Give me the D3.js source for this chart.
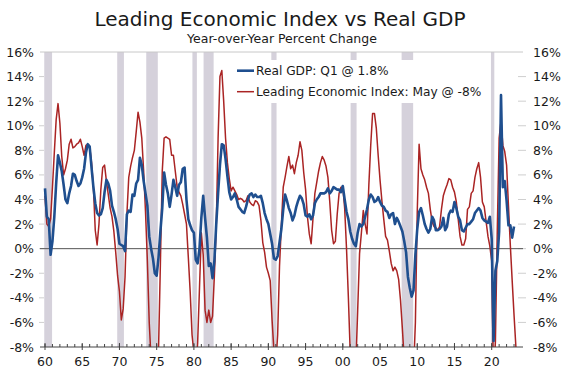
<!DOCTYPE html>
<html>
<head>
<meta charset="utf-8">
<script src="https://cdn.jsdelivr.net/npm/d3@7"></script>
<style>
  body { margin: 0; background: #fff; }
  svg { font-family: "DejaVu Sans", Verdana, sans-serif; }
</style>
</head>
<body>
<svg id="chart" width="566" height="372"></svg>
<script>
// quarterly series, first value = 1960 Q1
const startYear = 1960;

// Real GDP, year-over-year % change
const gdp = [
  4.9, 2.6, 2.4, -0.5,   // 1960
  0.6, 2.6, 5.3, 7.6,
  7.0, 6.3, 5.2, 4.0,
  3.7, 4.5, 5.1, 6.1,
  6.0, 5.5, 5.1, 5.3,
  5.8, 6.5, 7.8, 8.5,    // 1965
  8.3, 6.6, 5.0, 3.7,
  2.9, 2.7, 2.8, 3.3,
  4.6, 5.6, 5.3, 4.7,
  3.5, 3.0, 2.4, 1.6,
  0.4, 0.3, 0.2, -0.2,   // 1970
  2.8, 3.1, 3.0, 4.4,
  4.3, 5.3, 5.6, 7.4,
  6.8, 5.5, 4.5, 3.5,
  1.0, 0.0, -0.8, -2.0,
  -2.2, -0.7, 1.4, 3.3,  // 1975
  6.2, 5.2, 4.5, 3.4,
  4.4, 5.6, 5.0, 4.3,
  5.2, 5.4, 6.5, 6.6,
  4.0, 2.4, 1.9, 1.5,
  1.3, -0.9, -1.2, 0.0,  // 1980
  2.5, 4.3, 2.5, 0.9,
  -1.4, -1.2, -2.4, -1.0,
  2.0, 4.5, 6.8, 8.5,
  8.4, 7.3, 5.9, 4.6,
  4.0, 4.2, 4.5, 4.0,    // 1985
  3.4, 3.2, 3.0, 2.9,
  3.4, 4.0, 4.4, 4.5,
  4.2, 4.4, 4.2, 4.2,
  4.3, 3.7, 2.9, 2.4,
  2.0, 1.2, 0.4, -0.8,   // 1990
  -0.9, -0.6, 0.5, 1.6,
  3.2, 4.4, 3.9, 3.3,
  2.9, 2.3, 2.7, 3.4,
  3.9, 4.3, 4.1, 3.6,
  2.7, 2.6, 2.8, 2.4,    // 1995
  2.7, 3.7, 4.0, 4.2,
  4.5, 4.5, 4.5, 4.6,
  4.9, 4.5, 4.7, 5.0,
  4.9, 4.8, 4.8, 4.6,
  5.1, 4.0, 3.0, 2.4,    // 2000
  1.4, 0.8, 0.4, 0.2,
  1.3, 2.0, 1.8, 2.0,
  2.6, 3.2, 4.0, 4.4,
  4.2, 3.8, 3.9, 4.2,
  3.8, 3.5, 3.4, 3.1,    // 2005
  3.0, 2.5, 2.8, 2.9,
  2.0, 2.5, 2.2, 1.8,
  1.4, 0.6, -0.3, -2.3,
  -3.2, -3.9, -3.4, -0.5,
  1.6, 3.0, 3.3, 2.7,    // 2010
  2.0, 1.6, 1.3, 1.6,
  2.6, 2.3, 1.5, 1.5,
  1.6, 1.8, 2.5, 1.5,
  1.8, 2.8, 3.1, 3.0,
  3.8, 3.3, 2.6, 2.3,    // 2015
  1.5, 1.4, 1.7, 2.0,
  2.0, 2.2, 2.4, 2.9,
  3.1, 3.3, 3.1, 2.5,
  2.3, 2.2, 2.1, 2.6,
  0.8, -7.5, -1.8, -1.0, // 2020
  1.4, 12.5, 5.0, 5.5,
  3.9, 1.9, 1.9, 0.9,
  1.8
];

// Leading Economic Index, year-over-year % change
const lei = [
  4.3, 2.0, 1.8, 2.4,    // 1960
  5.0, 7.8, 10.5, 11.8,
  10.2, 7.5, 6.0, 6.5,
  7.2, 8.5, 8.9, 8.2,
  8.3, 8.5, 8.6, 8.9,
  8.3, 7.6, 8.4, 8.5,    // 1965
  8.3, 7.0, 5.0, 1.5,
  0.3, 2.0, 4.8, 6.6,
  6.8, 5.5, 4.4, 3.3,
  2.6, 1.4, -0.3, -2.2,
  -3.5, -5.8, -4.9, -2.3, // 1970
  2.8, 5.8, 6.7, 7.4,
  8.0, 9.5, 11.1, 10.3,
  9.0, 6.3, 3.0, -1.0,
  -6.0, -9.0, -11.0, -12.0,
  -11.0, -8.2, -1.2, 6.3, // 1975
  9.0, 9.1, 9.0, 8.9,
  7.6, 7.6, 6.3, 5.0,
  4.6, 4.3, 3.6, 2.8,
  2.0, -0.7, -3.5, -7.0,
  -8.5, -10.0, -7.7, -3.2, // 1980
  1.3, -0.5, -5.0, -6.0,
  -5.0, -6.0, -5.5, -2.2,
  1.8, 9.0, 14.0, 14.5,
  12.0, 9.0, 7.0, 5.7,
  4.7, 5.0, 4.7, 4.4,    // 1985
  4.0, 4.1, 4.0, 3.8,
  3.9, 4.3, 3.8, 3.6,
  3.5, 3.9, 3.8, 3.5,
  2.3, 0.5, -0.3, -1.5,
  -2.0, -2.6, -5.8, -8.3, // 1990
  -9.5, -7.0, -1.4, 1.9,
  5.0, 5.8, 6.7, 7.5,
  6.5, 6.8, 6.1, 7.0,
  7.6, 8.7, 8.0, 6.2,
  4.8, 2.6, 1.2, 0.4,    // 1995
  2.5, 4.5, 5.4, 6.3,
  7.0, 7.5, 7.2, 6.7,
  5.8, 3.8, 1.5, 0.4,
  0.6, 2.8, 4.5, 5.0,
  5.0, 3.3, 0.0, -4.0,   // 2000
  -8.5, -10.5, -10.5, -9.5,
  -5.0, -0.4, 1.3, 3.1,
  2.0, 1.2, 5.2, 8.4,
  11.0, 11.0, 9.8, 7.6,
  5.6, 3.9, 2.4, 1.0,    // 2005
  0.7, -0.2, -1.2, -1.8,
  -1.5, -1.8, -2.5, -4.2,
  -6.5, -9.0, -11.0, -13.0,
  -14.0, -12.0, -10.0, -6.0,
  3.0, 8.5, 6.5, 6.0,    // 2010
  5.6, 5.0, 4.5, 3.2,
  2.2, 1.8, 1.7, 1.5,
  1.8, 3.2, 4.3, 4.8,
  5.2, 5.7, 5.6, 5.0,
  4.6, 3.8, 2.4, 1.0,    // 2015
  0.3, 0.3, 0.8, 3.2,
  3.4, 4.5, 4.7, 5.8,
  6.5, 7.0, 5.8, 3.8,
  3.4, 2.2, 1.0, 0.2,
  -1.0, -11.0, -7.5, 1.5, // 2020
  9.0, 10.4, 8.4, 7.9,
  6.8, 3.5, 0.3, -2.6,
  -5.4, -8.0
];

// recession shading, [start, end] in years
const recessions = [
  [1959.9, 1960.95], [1969.7, 1970.6], [1973.6, 1975.15],
  [1979.8, 1980.4], [1981.3, 1982.65], [1990.4, 1991.1],
  [2001.05, 2001.85], [2007.9, 2009.45], [2019.9, 2020.35]
];

const yTicks = [-8, -6, -4, -2, 0, 2, 4, 6, 8, 10, 12, 14, 16];
const xMajor = [1960, 1965, 1970, 1975, 1980, 1985, 1990, 1995, 2000, 2005, 2010, 2015, 2020];
const xLabels = ["60", "65", "70", "75", "80", "85", "90", "95", "00", "05", "10", "15", "20"];
const xMinor = d3.range(1960, 2024);

const legendItems = [
  { label: "Real GDP: Q1 @ 1.8%", color: "#1f4f8f", width: 2.6 },
  { label: "Leading Economic Index: May @ -8%", color: "#aa2424", width: 1.5 }
];

const plotL = 40, plotR = 523, plotT = 52, plotB = 347;

const x = d3.scaleLinear().domain([1960, 2020]).range([45, 491.7]);
const y = d3.scaleLinear().domain([-8, 16]).range([plotB, plotT]);

const svg = d3.select("#chart");

svg.append("defs").append("clipPath").attr("id", "plotclip")
  .append("rect")
  .attr("x", plotL).attr("y", plotT)
  .attr("width", plotR - plotL).attr("height", plotB - plotT);

// title
svg.append("text")
  .attr("x", 280).attr("y", 25.5)
  .attr("text-anchor", "middle")
  .style("font-size", "20px")
  .style("fill", "#1a1a1a")
  .text("Leading Economic Index vs Real GDP");

svg.append("text")
  .attr("x", 282).attr("y", 42.5)
  .attr("text-anchor", "middle")
  .style("font-size", "12.5px")
  .style("fill", "#1a1a1a")
  .text("Year-over-Year Percent Change");

// recession bars
svg.append("g")
  .selectAll("rect")
  .data(recessions)
  .enter()
  .append("rect")
  .attr("x", (d) => Math.max(plotL, x(d[0])))
  .attr("y", plotT)
  .attr("width", (d) => x(d[1]) - Math.max(plotL, x(d[0])))
  .attr("height", plotB - plotT)
  .style("fill", "#d5d1db");

// top border line
svg.append("line")
  .attr("x1", plotL).attr("x2", plotR)
  .attr("y1", y(16)).attr("y2", y(16))
  .style("stroke", "#c8c8c8").style("stroke-width", 1);

// y ticks, both sides
const inner = yTicks.filter((d) => d !== 16 && d !== -8);
const yt = svg.append("g");
yt.selectAll(".lt")
  .data(inner)
  .enter()
  .append("line")
  .attr("x1", plotL - 1).attr("x2", plotL + 4)
  .attr("y1", (d) => y(d)).attr("y2", (d) => y(d))
  .style("stroke", "#cfcfcf");
yt.selectAll(".rt")
  .data(inner)
  .enter()
  .append("line")
  .attr("x1", plotR - 5).attr("x2", plotR + 3)
  .attr("y1", (d) => y(d)).attr("y2", (d) => y(d))
  .style("stroke", "#cfcfcf");

yt.selectAll(".ll")
  .data(yTicks)
  .enter()
  .append("text")
  .attr("x", 34)
  .attr("y", (d) => y(d))
  .attr("dy", "0.36em")
  .attr("text-anchor", "end")
  .style("font-size", "12.5px")
  .style("fill", "#1a1a1a")
  .text((d) => d + "%");
yt.selectAll(".rl")
  .data(yTicks)
  .enter()
  .append("text")
  .attr("x", 533)
  .attr("y", (d) => y(d))
  .attr("dy", "0.36em")
  .attr("text-anchor", "start")
  .style("font-size", "12.5px")
  .style("fill", "#1a1a1a")
  .text((d) => d + "%");

// zero line
svg.append("line")
  .attr("x1", plotL).attr("x2", plotR)
  .attr("y1", y(0)).attr("y2", y(0))
  .style("stroke", "#555").style("stroke-width", 1);

// legend box
const legend = svg.append("g");
legend.append("rect")
  .attr("x", 231).attr("y", 60)
  .attr("width", 255).attr("height", 43)
  .style("fill", "#fff");
legend.selectAll("line")
  .data(legendItems)
  .enter()
  .append("line")
  .attr("x1", 237).attr("x2", 254)
  .attr("y1", (d, i) => 70.7 + i * 21)
  .attr("y2", (d, i) => 70.7 + i * 21)
  .style("stroke", (d) => d.color)
  .style("stroke-width", (d) => d.width);
legend.selectAll("text")
  .data(legendItems)
  .enter()
  .append("text")
  .attr("x", 256)
  .attr("y", (d, i) => 70.7 + i * 21)
  .attr("dy", "0.36em")
  .style("font-size", "12.2px")
  .style("fill", "#1a1a1a")
  .text((d) => d.label);

// series lines
const toPoints = (arr) => arr.map((v, i) => ({ t: startYear + i / 4, v: v }));
const line = d3.line().x((d) => x(d.t)).y((d) => y(d.v));

const lines = svg.append("g").attr("clip-path", "url(#plotclip)");
lines.append("path")
  .datum(toPoints(lei))
  .attr("d", line)
  .style("fill", "none")
  .style("stroke", legendItems[1].color)
  .style("stroke-width", 1.5)
  .style("stroke-linejoin", "round");
lines.append("path")
  .datum(toPoints(gdp))
  .attr("d", line)
  .style("fill", "none")
  .style("stroke", legendItems[0].color)
  .style("stroke-width", 2.6)
  .style("stroke-linejoin", "round");

// bottom axis
const xa = svg.append("g");
xa.append("line")
  .attr("x1", plotL).attr("x2", plotR)
  .attr("y1", plotB).attr("y2", plotB)
  .style("stroke", "#444").style("stroke-width", 1);
xa.selectAll(".mn")
  .data(xMinor)
  .enter()
  .append("line")
  .attr("x1", (d) => x(d)).attr("x2", (d) => x(d))
  .attr("y1", plotB - 3).attr("y2", plotB)
  .style("stroke", "#444");
xa.selectAll(".mj")
  .data(xMajor)
  .enter()
  .append("line")
  .attr("x1", (d) => x(d)).attr("x2", (d) => x(d))
  .attr("y1", plotB - 4).attr("y2", plotB + 3)
  .style("stroke", "#444");
xa.selectAll("text")
  .data(xMajor)
  .enter()
  .append("text")
  .attr("x", (d) => x(d))
  .attr("y", 366)
  .attr("text-anchor", "middle")
  .style("font-size", "12.5px")
  .style("fill", "#1a1a1a")
  .text((d, i) => xLabels[i]);
</script>
</body>
</html>
